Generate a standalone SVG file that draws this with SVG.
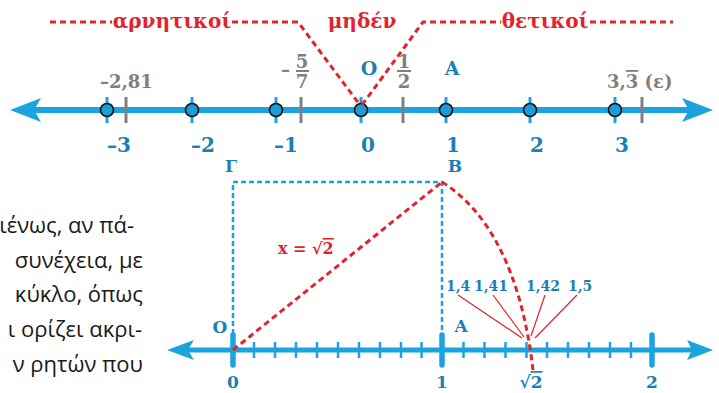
<svg xmlns="http://www.w3.org/2000/svg" width="719" height="393" viewBox="0 0 719 393">
<style>
.axis{stroke:#1aa3df;stroke-width:6;fill:none}
.axis2{stroke:#1aa3df;stroke-width:5;fill:none}
.ah{fill:#1aa3df}
.bt{stroke:#1aa3df;stroke-width:3}
.st{stroke:#1aa3df;stroke-width:2.5}
.tt{stroke:#1aa3df;stroke-width:5.5;stroke-linecap:round}
.gt{stroke:#7f7f7f;stroke-width:3}
.pt{fill:#1c9cd8;stroke:#111;stroke-width:1.6}
.num{font-family:"DejaVu Serif",serif;font-weight:bold;fill:#1a7fb2}
.grey{font-family:"DejaVu Serif",serif;font-weight:bold;fill:#7f7f7f;font-size:18px}
.red{font-family:"DejaVu Serif",serif;font-weight:bold;fill:#e3222c}
.rd{stroke:#e3222c;stroke-width:3;fill:none;stroke-dasharray:6 4}
.bd{stroke:#1aa3df;stroke-width:2.5;fill:none;stroke-dasharray:5 3}
.lead{stroke:#e3222c;stroke-width:1.2}
.para{font-family:"Open Sans",sans-serif;font-size:22px;fill:#1a1a1a;text-anchor:end}
.m{text-anchor:middle}
</style>

<g id="top-axis">
  <line class="axis" x1="30" y1="110" x2="693" y2="110"/>
  <path class="ah" d="M10,110 L41,98 L34,110 L41,122 Z"/>
  <path class="ah" d="M713,110 L682,98 L689,110 L682,122 Z"/>
</g>

<g id="top-ticks">
  <line class="gt" x1="126" y1="97" x2="126" y2="123"/>
  <line class="gt" x1="301" y1="97" x2="301" y2="123"/>
  <line class="gt" x1="403" y1="97" x2="403" y2="123"/>
  <line class="gt" x1="642" y1="97" x2="642" y2="123"/>
</g>

<g id="p-3"><line class="bt" x1="107" y1="97" x2="107" y2="123"/><circle class="pt" cx="107" cy="110" r="6.5"/><text class="num m" x="119" y="152" font-size="20">–3</text></g>
<g id="p-2"><line class="bt" x1="192" y1="97" x2="192" y2="123"/><circle class="pt" cx="192" cy="110" r="6.5"/><text class="num m" x="203" y="152" font-size="20">–2</text></g>
<g id="p-1"><line class="bt" x1="276" y1="97" x2="276" y2="123"/><circle class="pt" cx="276" cy="110" r="6.5"/><text class="num m" x="286" y="152" font-size="20">–1</text></g>
<g id="p0"><line class="bt" x1="361" y1="97" x2="361" y2="123"/><circle class="pt" cx="361" cy="110" r="6.5"/><text class="num m" x="368" y="152" font-size="20">0</text></g>
<g id="p1"><line class="bt" x1="446" y1="97" x2="446" y2="123"/><circle class="pt" cx="446" cy="110" r="6.5"/><text class="num m" x="453" y="152" font-size="20">1</text></g>
<g id="p2"><line class="bt" x1="530" y1="97" x2="530" y2="123"/><circle class="pt" cx="530" cy="110" r="6.5"/><text class="num m" x="537" y="152" font-size="20">2</text></g>
<g id="p3"><line class="bt" x1="615" y1="97" x2="615" y2="123"/><circle class="pt" cx="615" cy="110" r="6.5"/><text class="num m" x="622" y="152" font-size="20">3</text></g>

<g id="top-labels">
  <text class="grey" x="100" y="88">–2,81</text>
  <text class="grey" x="281" y="76">–</text>
  <text class="grey m" x="302" y="68">5</text>
  <line x1="296" y1="71" x2="309" y2="71" stroke="#7f7f7f" stroke-width="2"/>
  <text class="grey m" x="302" y="88">7</text>
  <text class="grey m" x="404" y="68">1</text>
  <line x1="397" y1="71" x2="411" y2="71" stroke="#7f7f7f" stroke-width="2"/>
  <text class="grey m" x="404" y="88">2</text>
  <text class="grey" x="607" y="88">3,<tspan text-decoration="overline">3</tspan> (ε)</text>
  <text class="num m" x="369" y="75" font-size="19">O</text>
  <text class="num m" x="452" y="75" font-size="19">A</text>
  <text class="red m" x="172" y="28" font-size="20">αρνητικοί</text>
  <text class="red m" x="362" y="28" font-size="20">μηδέν</text>
  <text class="red m" x="545" y="28" font-size="20">θετικοί</text>
</g>

<g id="bottom-axis">
  <line class="axis2" x1="185" y1="350" x2="695" y2="350"/>
  <path class="ah" d="M167,350 L194,340 L188,350 L194,360 Z"/>
  <path class="ah" d="M713,350 L687,340 L692,350 L687,360 Z"/>
  <g>
    <line class="st" x1="254" y1="342" x2="254" y2="358"/>
    <line class="st" x1="275" y1="342" x2="275" y2="358"/>
    <line class="st" x1="296" y1="342" x2="296" y2="358"/>
    <line class="st" x1="317" y1="342" x2="317" y2="358"/>
    <line class="st" x1="338" y1="342" x2="338" y2="358"/>
    <line class="st" x1="359" y1="342" x2="359" y2="358"/>
    <line class="st" x1="380" y1="342" x2="380" y2="358"/>
    <line class="st" x1="401" y1="342" x2="401" y2="358"/>
    <line class="st" x1="421.5" y1="342" x2="421.5" y2="358"/>
    <line class="st" x1="463.5" y1="342" x2="463.5" y2="358"/>
    <line class="st" x1="484.5" y1="342" x2="484.5" y2="358"/>
    <line class="st" x1="505.5" y1="342" x2="505.5" y2="358"/>
    <line class="st" x1="526.5" y1="342" x2="526.5" y2="358"/>
    <line class="st" x1="547" y1="342" x2="547" y2="358"/>
    <line class="st" x1="568" y1="342" x2="568" y2="358"/>
    <line class="st" x1="589" y1="342" x2="589" y2="358"/>
    <line class="st" x1="610" y1="342" x2="610" y2="358"/>
    <line class="st" x1="631" y1="342" x2="631" y2="358"/>
  </g>
  <line class="tt" x1="233" y1="335" x2="233" y2="365"/>
  <line class="tt" x1="442" y1="335" x2="442" y2="365"/>
  <line class="tt" x1="652" y1="335" x2="652" y2="365"/>
</g>

<g id="connectors">
  <path class="rd" d="M50,22 H112 M232,22 H298 L360,105"/>
  <path class="rd" d="M362,105 L423,22 H501 M590,22 H673"/>
  <path class="bd" d="M233,334 V182 H442 V334"/>
  <path class="rd" d="M233,350 L442,182"/>
  <path class="rd" d="M442,182 C490,212 522,275 533,370"/>
  <line class="lead" x1="458" y1="295" x2="522" y2="338"/>
  <line class="lead" x1="493" y1="295" x2="524" y2="337"/>
  <line class="lead" x1="545" y1="295" x2="531" y2="336"/>
  <line class="lead" x1="577" y1="295" x2="535" y2="338"/>
</g>

<g id="bottom-labels">
  <text class="num m" x="231" y="172" font-size="17">Γ</text>
  <text class="num m" x="455" y="172" font-size="17">B</text>
  <text class="num m" x="220" y="333" font-size="17">O</text>
  <text class="num m" x="461" y="332" font-size="17">A</text>
  <text class="red" x="278" y="254" font-size="16">x = √<tspan text-decoration="overline">2</tspan></text>
  <text class="num" x="446" y="291" font-size="14">1,4</text>
  <text class="num" x="474" y="291" font-size="14">1,41</text>
  <text class="num" x="526" y="291" font-size="14">1,42</text>
  <text class="num" x="568" y="291" font-size="14">1,5</text>
  <text class="num m" x="233" y="388" font-size="17">0</text>
  <text class="num m" x="442" y="388" font-size="17">1</text>
  <text class="num m" x="531" y="388" font-size="17">√<tspan text-decoration="overline">2</tspan></text>
  <text class="num m" x="652" y="388" font-size="17">2</text>
</g>

<g id="paragraph">
  <text class="para" x="134" y="233" font-size="21">ιένως, αν πά-</text>
  <text class="para" x="143" y="268">συνέχεια, με</text>
  <text class="para" x="143" y="302">κύκλο, όπως</text>
  <text class="para" x="142" y="337">ι ορίζει ακρι-</text>
  <text class="para" x="143" y="372">ν ρητών που</text>
</g>
</svg>
